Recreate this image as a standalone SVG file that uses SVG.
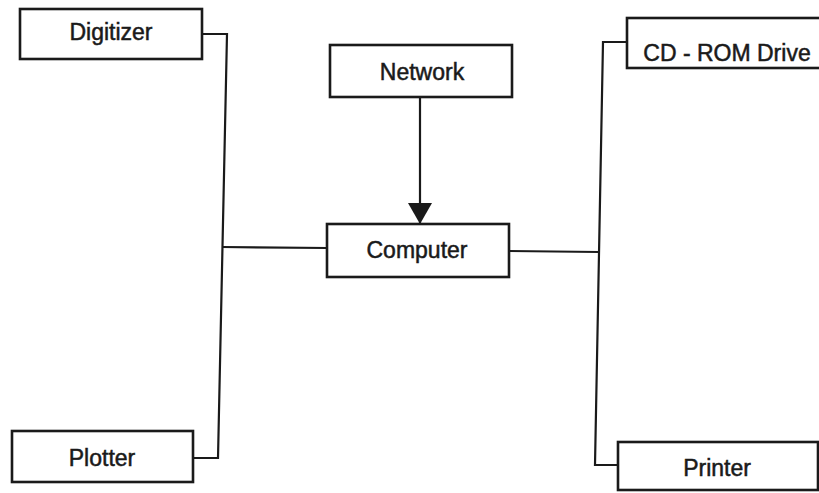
<svg xmlns="http://www.w3.org/2000/svg" width="819" height="493" viewBox="0 0 819 493">
<style>
.box{fill:#fff;stroke:#1a1a1a;stroke-width:2.6}
.lbl{font-family:"Liberation Sans",Arial,sans-serif;font-size:23px;fill:#1a1a1a;stroke:#1a1a1a;stroke-width:0.5;text-anchor:middle}
.ln{fill:none;stroke:#1a1a1a;stroke-width:2.2}
</style>
<defs>
<marker id="arr" markerWidth="21" markerHeight="24" refX="21" refY="12" orient="auto" markerUnits="userSpaceOnUse" viewBox="0 0 21 24">
<path d="M0,0 L21,12 L0,24 Z" fill="#1a1a1a"/>
</marker>
</defs>
<rect width="819" height="493" fill="#fff"/>
<g id="connectors">
<polyline class="ln" points="202,34 227,34 218,458 193,458"/>
<line class="ln" x1="222" y1="247" x2="328" y2="248"/>
<line class="ln" x1="509" y1="251" x2="599" y2="252"/>
<polyline class="ln" points="627,42 603,42 595,465 618,465"/>
<line class="ln" x1="420" y1="97" x2="420" y2="224" marker-end="url(#arr)"/>
</g>
<g id="digitizer"><rect class="box" x="20" y="9" width="182" height="50"/><text class="lbl" x="111" y="40">Digitizer</text></g>
<g id="network"><rect class="box" x="330" y="45" width="182" height="52"/><text class="lbl" x="422" y="80">Network</text></g>
<g id="computer"><rect class="box" x="327" y="224" width="182" height="53"/><text class="lbl" x="417" y="258">Computer</text></g>
<g id="cdrom"><rect class="box" x="627" y="18" width="200" height="50"/><text class="lbl" x="727" y="61">CD - ROM Drive</text></g>
<g id="plotter"><rect class="box" x="12" y="431" width="181" height="51"/><text class="lbl" x="102" y="466">Plotter</text></g>
<g id="printer"><rect class="box" x="618" y="442" width="200" height="48"/><text class="lbl" x="717" y="476">Printer</text></g>
</svg>
